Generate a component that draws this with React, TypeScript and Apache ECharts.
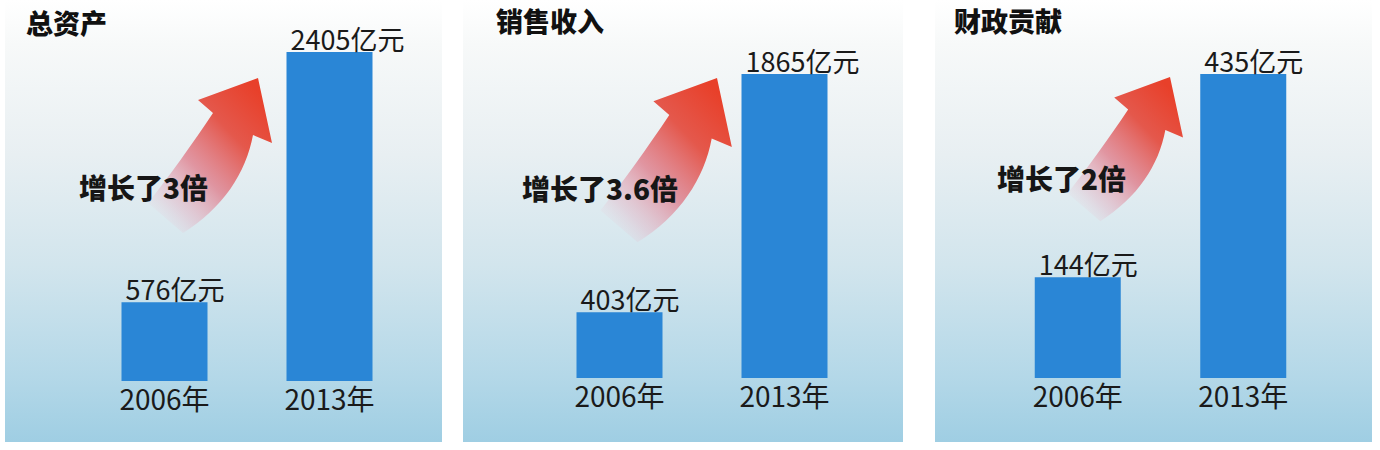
import React, { useEffect, useRef } from "react";
import * as echarts from "echarts";

const categories = ["2006年", "2013年"];
const totalAssets = [576, 2405];
const salesRevenue = [403, 1865];
const fiscalContribution = [144, 435];
const panelTitles = ["总资产", "销售收入", "财政贡献"];
const growthLabels = ["增长了3倍", "增长了3.6倍", "增长了2倍"];
const valueUnit = "亿元";

const FONT = '"Noto Sans CJK SC", "Noto Sans", sans-serif';

const ARROW_D =
  "M0,0 L14,65 L-5,57 C-12,95 -35,130 -75,155 L-110,125 C-90,100 -65,65 -45,35 L-60,22 Z";

let registered = false;
function ensureShape() {
  if (registered) return;
  echarts.graphic.registerShape("growArrow", echarts.graphic.extendPath(ARROW_D, {}) as any);
  registered = true;
}

export default function App() {
  const ref = useRef<HTMLDivElement>(null);

  useEffect(() => {
    if (!ref.current) return;
    ensureShape();
    const chart = echarts.init(ref.current, undefined, { renderer: "svg" });

    const seriesData = [totalAssets, salesRevenue, fiscalContribution];
    const grids = [
      { left: 82, top: 52, width: 330, height: 329 },
      { left: 537, top: 74, width: 330, height: 304 },
      { left: 995, top: 74, width: 331, height: 304 },
    ];
    const panels = [
      { x: 5, w: 437 },
      { x: 463, w: 440 },
      { x: 935, w: 437 },
    ];
    const titlePos = [
      { left: 26, top: 9 },
      { left: 496, top: 7 },
      { left: 954, top: 7 },
    ];
    const arrows = [
      { x: 258, y: 78, s: 1.0 },
      { x: 717, y: 78, s: 1.06 },
      { x: 1170, y: 77, s: 0.93 },
    ];
    const growthPos = [
      { x: 79, y: 187 },
      { x: 522, y: 188 },
      { x: 997, y: 178 },
    ];

    const bgGradient = () =>
      new echarts.graphic.LinearGradient(0, 0, 0, 1, [
        { offset: 0, color: "#ffffff" },
        { offset: 0.1, color: "#f7f9f9" },
        { offset: 0.35, color: "#e8eff2" },
        { offset: 0.6, color: "#d2e5ed" },
        { offset: 0.85, color: "#b4d8e8" },
        { offset: 1, color: "#9fcee3" },
      ]);

    const arrowGradient = () =>
      new echarts.graphic.LinearGradient(0.85, 0.05, 0.1, 0.95, [
        { offset: 0, color: "#e8402a" },
        { offset: 0.3, color: "#e4584c" },
        { offset: 0.6, color: "rgba(222,115,130,0.72)" },
        { offset: 0.85, color: "rgba(228,165,185,0.35)" },
        { offset: 1, color: "rgba(235,195,210,0)" },
      ]);

    const graphics: any[] = [];
    panels.forEach((p) => {
      graphics.push({
        type: "rect",
        shape: { x: p.x, y: 0, width: p.w, height: 442 },
        style: { fill: bgGradient() },
        z: -10,
        silent: true,
      });
    });
    arrows.forEach((a) => {
      graphics.push({
        type: "growArrow",
        x: a.x,
        y: a.y,
        scaleX: a.s,
        scaleY: a.s,
        style: { fill: arrowGradient() },
        z: 1,
        silent: true,
      });
    });
    growthPos.forEach((g, i) => {
      graphics.push({
        type: "text",
        x: g.x,
        y: g.y,
        z: 10,
        style: {
          text: growthLabels[i],
          fontSize: 28,
          fontWeight: 900,
          fontFamily: FONT,
          fill: "#161616",
          align: "left",
          verticalAlign: "middle",
        },
      });
    });

    const option: any = {
      animation: false,
      backgroundColor: "#ffffff",
      title: panelTitles.map((t, i) => ({
        text: t,
        left: titlePos[i].left,
        top: titlePos[i].top,
        padding: 0,
        textStyle: { fontSize: 27, fontWeight: 900, color: "#111111", fontFamily: FONT },
      })),
      graphic: { elements: graphics },
      grid: grids.map((g) => ({ ...g, containLabel: false })),
      xAxis: grids.map((_, i) => ({
        type: "category",
        gridIndex: i,
        data: categories,
        axisLine: { show: false },
        axisTick: { show: false },
        splitLine: { show: false },
        axisLabel: { fontSize: 28, color: "#1a1a1a", margin: 3, fontFamily: FONT },
      })),
      yAxis: grids.map((_, i) => ({
        type: "value",
        gridIndex: i,
        min: 0,
        max: "dataMax",
        show: false,
        splitLine: { show: false },
      })),
      series: seriesData.map((d, i) => ({
        type: "bar",
        xAxisIndex: i,
        yAxisIndex: i,
        data: d,
        barWidth: 86,
        itemStyle: { color: "#2a86d6" },
        label: {
          show: true,
          position: [4, 0],
          align: "left",
          verticalAlign: "bottom",
          formatter: (p: any) => `${p.value}${valueUnit}`,
          fontSize: 27,
          color: "#1a1a1a",
          fontFamily: FONT,
        },
      })),
    };

    chart.setOption(option);
    return () => chart.dispose();
  }, []);

  return (
    <div
      ref={ref}
      style={{ position: "absolute", left: 0, top: 0, width: 1380, height: 450 }}
    />
  );
}
